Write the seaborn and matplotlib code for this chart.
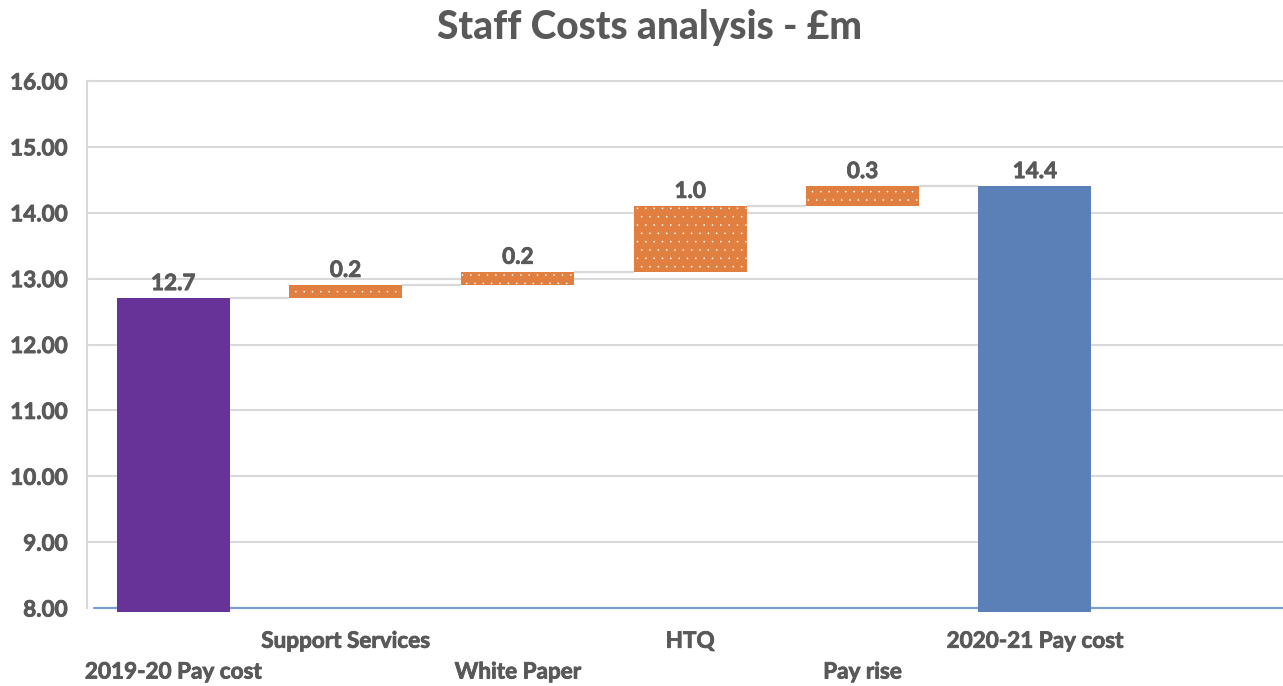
import numpy as np
import pandas as pd
import matplotlib
matplotlib.use("Agg")
import matplotlib.pyplot as plt
import matplotlib.patheffects as pe
import seaborn as sns

# Waterfall data (£m)
categories = ["2019-20 Pay cost", "Support Services", "White Paper", "HTQ",
              "Pay rise", "2020-21 Pay cost"]
opening_total = 12.7
changes = [0.2, 0.2, 1.0, 0.3]
closing_total = 14.4
y_ticks = [8, 9, 10, 11, 12, 13, 14, 15, 16]

# Build floating bars: bases and heights
running = np.cumsum([opening_total] + changes)
heights = [opening_total] + changes + [closing_total]
bases = [0.0] + list(running[:-1]) + [0.0]
tops = [b + h for b, h in zip(bases, heights)]

TEXT = "#595959"
PURPLE = "#673399"
BLUE = "#5B80B8"
ORANGE = "#E07F40"
GRID = "#D9D9D9"
BAR_W = 0.656
FS = 16.2
THICK = [pe.withStroke(linewidth=0.6, foreground=TEXT)]

sns.set_theme(style="white")
plt.rcParams["font.family"] = ["Lato", "DejaVu Sans"]
plt.rcParams["hatch.linewidth"] = 0.0

fig = plt.figure(figsize=(12.83, 6.86), dpi=100)
ax = fig.add_axes([87 / 1283, 1 - 612 / 686, 1 - 87 / 1283, (612 - 81) / 686])

df = pd.DataFrame({"category": categories, "height": heights})
sns.barplot(data=df, x="category", y="height", order=categories,
            bottom=bases, width=BAR_W, errorbar=None, ax=ax, zorder=3,
            linewidth=0, color=ORANGE, saturation=1)

for i, patch in enumerate(ax.patches):
    if i == 0:
        patch.set_facecolor(PURPLE)
    elif i == len(categories) - 1:
        patch.set_facecolor(BLUE)
    else:
        patch.set_facecolor(ORANGE)
        patch.set_edgecolor("white")
        patch.set_hatch("..")
        patch.set_linewidth(0)

# Connectors between consecutive bars
for i in range(len(categories) - 1):
    level = tops[i]
    ax.hlines(level, i + BAR_W / 2, i + 1 - BAR_W / 2, color=GRID, lw=1.6, zorder=2)

# Value labels
for i, (t, h) in enumerate(zip(tops, heights)):
    ax.annotate(f"{h:.1f}", (i, t), xytext=(0, 6), textcoords="offset points",
                ha="center", va="baseline", fontsize=FS, fontweight="bold",
                color=TEXT, path_effects=THICK)

ax.set_xlim(-0.5, 6.44)
ax.set_ylim(7.94, 16.0)
ax.set_yticks(y_ticks)
ax.set_yticklabels([f"{v:.2f}" for v in y_ticks])
ax.tick_params(axis="y", length=0, pad=14, labelsize=FS, labelcolor=TEXT)
for lab in ax.get_yticklabels():
    lab.set_fontweight("bold")
    lab.set_path_effects(THICK)

ax.set_xticks([])
ax.set_xlabel("")
ax.set_ylabel("")

for v in y_ticks[1:]:
    ax.axhline(v, color=GRID, lw=1.5, zorder=1, clip_on=False)
ax.axhline(8, xmin=0.006, xmax=1, color="#7A9CCF", lw=1.6, zorder=2)

for side in ["top", "right", "bottom"]:
    ax.spines[side].set_visible(False)
ax.spines["left"].set_color(GRID)
ax.spines["left"].set_linewidth(1.5)
ax.spines["left"].set_bounds(8, 16)

# Staggered category labels
xt = ax.get_xaxis_transform()
for i, cat in enumerate(categories):
    y = -0.055 if i % 2 == 1 else -0.113
    ax.text(i, y, cat, transform=xt, ha="center", va="center",
            fontsize=FS, fontweight="bold", color=TEXT, path_effects=THICK)

fig.text(0.506, 1 - 39 / 686, "Staff Costs analysis - £m", ha="center",
         va="baseline", fontsize=28, fontweight="black", color=TEXT)

fig.savefig("out.png", dpi=100)
